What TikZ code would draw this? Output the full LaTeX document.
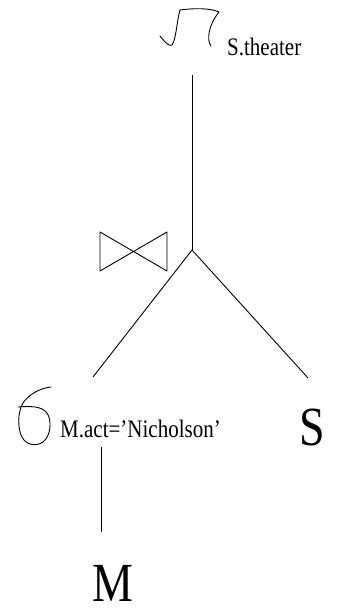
\documentclass[tikz,border=0pt]{standalone}
\usepackage{fontspec}
\setmainfont{Liberation Serif}
\begin{document}
\begin{tikzpicture}[x=1pt,y=-1pt,
  ln/.style={line width=0.9pt,black},
  hand/.style={line width=0.9pt,black,line join=round,line cap=round},
  lbl/.style={inner sep=0pt,anchor=base west,font=\fontsize{21}{21}\selectfont},
  big/.style={inner sep=0pt,anchor=base,font=\fontsize{46}{46}\selectfont}]
\useasboundingbox (0,0) rectangle (341,610);
% projection symbol (hand drawn pi)
\draw[hand] (160,36) .. controls (165,42) and (169,47) .. (172,45)
  .. controls (176,40) and (177,20) .. (180,10)
  .. controls (195,8) and (210,8) .. (219,12)
  .. controls (209,24) and (206,40) .. (211,46);
\node[lbl] (proj) at (227,56) {\scalebox{1}[1.2]{S.theater}};
% join symbol
\draw[hand] (100,232) -- (167,271) -- (167,232) -- (100,271) -- cycle;
% selection symbol (hand drawn sigma)
\draw[hand] (51,387) .. controls (40,388) and (28,395) .. (23,403)
  .. controls (17,413) and (18,430) .. (22,437)
  .. controls (26,445) and (36,447) .. (43,442)
  .. controls (51,436) and (52,420) .. (47,413)
  .. controls (42,406) and (30,406) .. (18,407);
\node[lbl] (sel) at (60,437) {\scalebox{1}[1.2]{M.act=’Nicholson’}};
\node[big] (S) at (312,445) {\scalebox{1}[1.2]{S}};
\node[big] (M) at (113,601) {\scalebox{1}[1.2]{M}};
% connectors
\coordinate (ptop) at (192,75);
\coordinate (join) at (192,250);
\coordinate (lend) at (93,377);
\coordinate (rend) at (308,378);
\coordinate (stop) at (101,447);
\coordinate (mtop) at (101,532);
\draw[ln] (ptop) -- (join);
\draw[ln] (join) -- (lend);
\draw[ln] (join) -- (rend);
\draw[ln] (stop) -- (mtop);
\end{tikzpicture}
\end{document}
